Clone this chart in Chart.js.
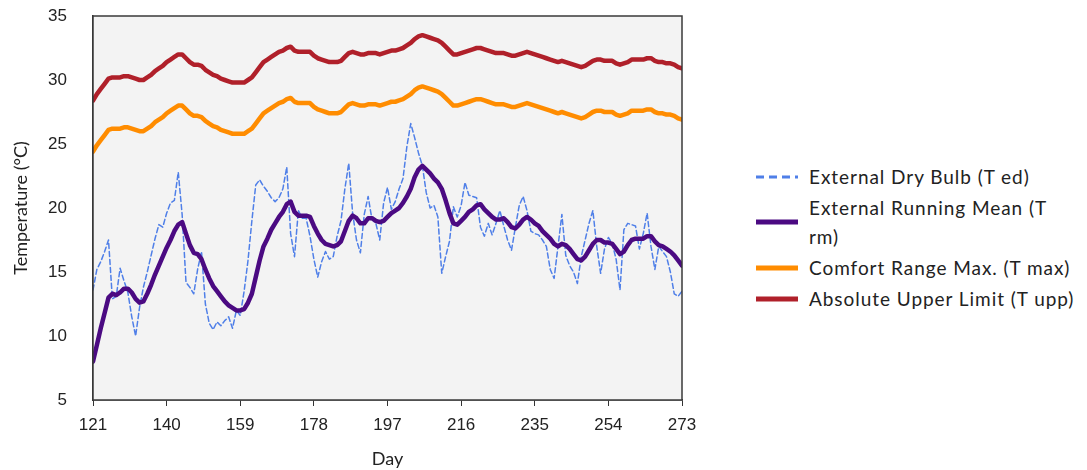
<!DOCTYPE html>
<html>
<head>
<meta charset="utf-8">
<script src="https://cdn.jsdelivr.net/npm/chart.js@4"></script>
<style>
  html, body { margin: 0; padding: 0; background: #ffffff; }
  #wrap { position: relative; width: 1087px; height: 470px; overflow: hidden; }
  #c { position: absolute; left: 0; top: 0; }
  #legend { position: absolute; left: 755px; top: 162px; font-family: Lato, "Open Sans", sans-serif; font-size: 19px; letter-spacing: 0.95px; color: #222; }
  .item { display: flex; align-items: center; line-height: 29px; margin-bottom: 2px; white-space: nowrap; }
  .item svg { flex: 0 0 44px; margin-right: 10px; }
</style>
</head>
<body>
<div id="wrap">
  <canvas id="c" width="700" height="470"></canvas>
  <div id="legend"></div>
</div>
<script>
// ---- data ----
const firstDay = 121;
const xTickLabels = [121, 140, 159, 178, 197, 216, 235, 254, 273];
const yTickLabels = [5, 10, 15, 20, 25, 30, 35];

const seriesNames = [
  "External Dry Bulb (T ed)",
  "External Running Mean (T rm)",
  "Comfort Range Max. (T max)",
  "Absolute Upper Limit (T upp)"
];

// External dry bulb, days 121..273
const tEd = [
  13.6, 15.2, 15.8, 16.6, 17.5, 12.9, 13.1, 15.3, 14.3, 13.4,
  11.5, 10.0, 12.2, 13.8, 15.0, 16.3, 17.6, 18.7, 18.5, 19.6,
  20.4, 20.6, 22.8, 19.5, 14.2, 13.8, 13.3, 15.2, 16.6, 12.5,
  11.0, 10.5, 11.1, 10.8, 11.2, 11.5, 10.6, 12.0, 11.6, 13.5,
  15.9, 19.0, 21.8, 22.2, 21.7, 21.3, 20.8, 20.5, 20.8, 21.5,
  23.2, 18.0, 16.2, 19.8, 19.2, 19.2, 17.8, 16.0, 14.6, 15.8,
  16.6, 16.0, 16.2, 17.8, 19.0, 21.5, 23.5, 19.6, 17.5, 16.5,
  19.5, 20.9, 19.1, 18.8, 17.5, 20.4, 21.6, 19.9, 20.5, 21.5,
  22.3, 24.8, 26.6, 25.5, 24.3, 23.3, 21.2, 20.0, 20.2, 19.3,
  14.9, 16.2, 17.4, 20.1, 19.3, 20.2, 22.0, 21.0, 20.9, 20.8,
  18.5, 17.8, 18.8, 17.9, 18.8, 19.8, 18.6, 17.5, 16.7, 18.5,
  20.2, 20.9, 19.8, 18.2, 18.0, 17.9, 17.5, 17.0, 15.2, 14.5,
  17.0, 19.5, 16.3, 15.5, 15.0, 14.1, 16.2, 17.5, 18.8, 19.8,
  17.0, 14.9, 16.8, 17.7, 17.2, 16.0, 13.6, 18.3, 18.8, 18.7,
  18.6, 16.8, 18.0, 19.6, 17.0, 15.2, 17.0, 16.6, 16.2, 15.0,
  13.3, 13.1, 13.5
];

// External running mean
const tRm = [
  8.0, 9.3, 10.6, 11.8, 13.0, 13.3, 13.2, 13.4, 13.7, 13.7,
  13.4, 12.9, 12.6, 12.7, 13.3, 14.0, 14.8, 15.5, 16.2, 16.9,
  17.5, 18.2, 18.7, 18.9, 18.0, 17.1, 16.5, 16.4, 16.0, 15.2,
  14.5, 13.9, 13.5, 13.1, 12.7, 12.4, 12.2, 12.0, 12.0, 12.1,
  12.6, 13.3, 14.6, 15.9, 17.0, 17.6, 18.3, 18.8, 19.3, 19.7,
  20.3, 20.5, 19.7, 19.4, 19.4, 19.4, 19.3, 18.6, 18.0, 17.5,
  17.2, 17.1, 17.0, 17.1, 17.4, 18.2, 19.0, 19.4, 19.2, 18.8,
  18.8, 19.2, 19.2, 19.0, 18.9, 19.0, 19.3, 19.6, 19.8, 20.0,
  20.4, 20.9, 21.5, 22.4, 23.0, 23.3, 23.0, 22.7, 22.3, 22.0,
  21.5, 20.6, 19.6, 18.8, 18.7, 19.0, 19.3, 19.7, 19.9, 20.2,
  20.3, 19.9, 19.6, 19.3, 19.1, 19.1, 19.2, 18.9, 18.5, 18.4,
  18.7, 19.1, 19.3, 19.1, 18.8, 18.6, 18.2, 17.9, 17.6, 17.2,
  17.0, 17.2, 17.1, 16.8, 16.4, 16.0, 15.9, 16.2, 16.7, 17.2,
  17.5, 17.5, 17.3, 17.3, 17.2, 16.8, 16.4, 16.6, 17.1, 17.5,
  17.6, 17.6, 17.6, 17.8, 17.8, 17.4, 17.1, 17.0, 16.8, 16.6,
  16.3, 15.9, 15.5
];

// Comfort range maximum
const tMax = [
  24.4, 24.9, 25.3, 25.7, 26.1, 26.2, 26.2, 26.2, 26.3, 26.3,
  26.2, 26.1, 26.0, 26.0, 26.2, 26.4, 26.7, 26.9, 27.1, 27.4,
  27.6, 27.8, 28.0, 28.0, 27.7, 27.4, 27.2, 27.2, 27.1, 26.8,
  26.6, 26.4, 26.3, 26.1, 26.0, 25.9, 25.8, 25.8, 25.8, 25.8,
  26.0, 26.2, 26.6, 27.0, 27.4, 27.6, 27.8, 28.0, 28.2, 28.3,
  28.5, 28.6, 28.3, 28.2, 28.2, 28.2, 28.2, 27.9, 27.7, 27.6,
  27.5, 27.4, 27.4, 27.4, 27.5, 27.8, 28.1, 28.2, 28.1, 28.0,
  28.0, 28.1, 28.1, 28.1, 28.0, 28.1, 28.2, 28.3, 28.3, 28.4,
  28.5, 28.7, 28.9, 29.2, 29.4, 29.5, 29.4, 29.3, 29.2, 29.1,
  28.9, 28.6, 28.3, 28.0, 28.0, 28.1, 28.2, 28.3, 28.4, 28.5,
  28.5, 28.4, 28.3, 28.2, 28.1, 28.1, 28.1, 28.0, 27.9, 27.9,
  28.0, 28.1, 28.2, 28.1, 28.0, 27.9, 27.8, 27.7, 27.6, 27.5,
  27.4, 27.5, 27.4, 27.3, 27.2, 27.1, 27.0, 27.1, 27.3, 27.5,
  27.6, 27.6, 27.5, 27.5, 27.5, 27.3, 27.2, 27.3, 27.4, 27.6,
  27.6, 27.6, 27.6, 27.7, 27.7, 27.5, 27.4, 27.4, 27.3, 27.3,
  27.2, 27.0, 26.9
];

// Absolute upper limit
const tUpp = [
  28.4, 28.9, 29.3, 29.7, 30.1, 30.2, 30.2, 30.2, 30.3, 30.3,
  30.2, 30.1, 30.0, 30.0, 30.2, 30.4, 30.7, 30.9, 31.1, 31.4,
  31.6, 31.8, 32.0, 32.0, 31.7, 31.4, 31.2, 31.2, 31.1, 30.8,
  30.6, 30.4, 30.3, 30.1, 30.0, 29.9, 29.8, 29.8, 29.8, 29.8,
  30.0, 30.2, 30.6, 31.0, 31.4, 31.6, 31.8, 32.0, 32.2, 32.3,
  32.5, 32.6, 32.3, 32.2, 32.2, 32.2, 32.2, 31.9, 31.7, 31.6,
  31.5, 31.4, 31.4, 31.4, 31.5, 31.8, 32.1, 32.2, 32.1, 32.0,
  32.0, 32.1, 32.1, 32.1, 32.0, 32.1, 32.2, 32.3, 32.3, 32.4,
  32.5, 32.7, 32.9, 33.2, 33.4, 33.5, 33.4, 33.3, 33.2, 33.1,
  32.9, 32.6, 32.3, 32.0, 32.0, 32.1, 32.2, 32.3, 32.4, 32.5,
  32.5, 32.4, 32.3, 32.2, 32.1, 32.1, 32.1, 32.0, 31.9, 31.9,
  32.0, 32.1, 32.2, 32.1, 32.0, 31.9, 31.8, 31.7, 31.6, 31.5,
  31.4, 31.5, 31.4, 31.3, 31.2, 31.1, 31.0, 31.1, 31.3, 31.5,
  31.6, 31.6, 31.5, 31.5, 31.5, 31.3, 31.2, 31.3, 31.4, 31.6,
  31.6, 31.6, 31.6, 31.7, 31.7, 31.5, 31.4, 31.4, 31.3, 31.3,
  31.2, 31.0, 30.9
];

// ---- styling ----
const colors = ["#4f7fe8", "#4b0a82", "#ff8c00", "#b0202a"];
const widths = [1.5, 4.5, 4.5, 4.5];
const dashes = [[5, 3], [], [], []];
const drawOrder = [1, 0, 2, 3];
const seriesData = [tEd, tRm, tMax, tUpp];

const toPoints = arr => arr.map((v, i) => ({ x: firstDay + i, y: v }));

const plotFrame = {
  id: 'plotFrame',
  beforeDatasetsDraw(chart) {
    const a = chart.chartArea, ctx = chart.ctx;
    ctx.save();
    ctx.fillStyle = '#f3f3f3';
    ctx.fillRect(a.left, a.top, a.right - a.left, a.bottom - a.top);
    ctx.restore();
  },
  afterDraw(chart) {
    const a = chart.chartArea, ctx = chart.ctx;
    ctx.save();
    ctx.strokeStyle = '#3a3a3a';
    ctx.lineWidth = 1.5;
    ctx.strokeRect(a.left, a.top, a.right - a.left, a.bottom - a.top);
    ctx.restore();
  }
};

const tickFont = { family: "'Liberation Sans', Arial, sans-serif", size: 17 };
const titleFont = { family: "Lato, 'Open Sans', sans-serif", size: 18 };

new Chart(document.getElementById('c'), {
  type: 'line',
  data: {
    datasets: seriesNames.map((name, k) => ({
      label: name,
      data: toPoints(seriesData[k]),
      borderColor: colors[k],
      backgroundColor: colors[k],
      borderWidth: widths[k],
      borderDash: dashes[k],
      pointRadius: 0,
      tension: 0,
      fill: false,
      order: drawOrder[k],
      borderCapStyle: 'round',
      borderJoinStyle: 'round'
    }))
  },
  options: {
    responsive: false,
    devicePixelRatio: 1,
    animation: false,
    layout: { padding: { left: 0, right: 18, top: 16, bottom: 0 } },
    plugins: { legend: { display: false }, tooltip: { enabled: false } },
    scales: {
      x: {
        type: 'linear',
        min: xTickLabels[0],
        max: xTickLabels[xTickLabels.length - 1],
        afterBuildTicks: s => { s.ticks = xTickLabels.map(v => ({ value: v })); },
        afterFit: s => { s.height = 70; s.paddingLeft = 0; s.paddingRight = 0; },
        grid: { drawOnChartArea: false, drawTicks: true, tickLength: 6, color: '#333' },
        border: { display: true, color: '#333', width: 1.5 },
        ticks: { font: tickFont, color: '#222', padding: 9, maxRotation: 0, autoSkip: false },
        title: { display: true, text: 'Day', font: titleFont, color: '#222', padding: { top: 0, bottom: 0 } }
      },
      y: {
        min: yTickLabels[0],
        max: yTickLabels[yTickLabels.length - 1],
        afterBuildTicks: s => { s.ticks = yTickLabels.map(v => ({ value: v })); },
        afterFit: s => { s.width = 93; s.paddingTop = 0; s.paddingBottom = 0; },
        grid: { display: false },
        border: { display: true, color: '#333', width: 1.5 },
        ticks: { font: tickFont, color: '#222', padding: 18 },
        title: { display: true, text: 'Temperature (°C)', font: titleFont, color: '#222', padding: { top: 10, bottom: 0 } }
      }
    }
  },
  plugins: [plotFrame]
});

// ---- HTML legend ----
const legend = document.getElementById('legend');
const legendText = [
  "External Dry Bulb (T ed)",
  "External Running Mean (T<br>rm)",
  "Comfort Range Max. (T max)",
  "Absolute Upper Limit (T upp)"
];
const legendWidth = [3, 5, 5, 5];
seriesNames.forEach((name, k) => {
  const row = document.createElement('div');
  row.className = 'item';
  const dash = dashes[k].length ? 'stroke-dasharray="8,5"' : '';
  row.innerHTML =
    '<svg width="44" height="10"><line x1="1" y1="5" x2="43" y2="5" stroke="' + colors[k] +
    '" stroke-width="' + legendWidth[k] + '" ' + dash + '/></svg><span>' + legendText[k] + '</span>';
  legend.appendChild(row);
});
</script>
</body>
</html>
